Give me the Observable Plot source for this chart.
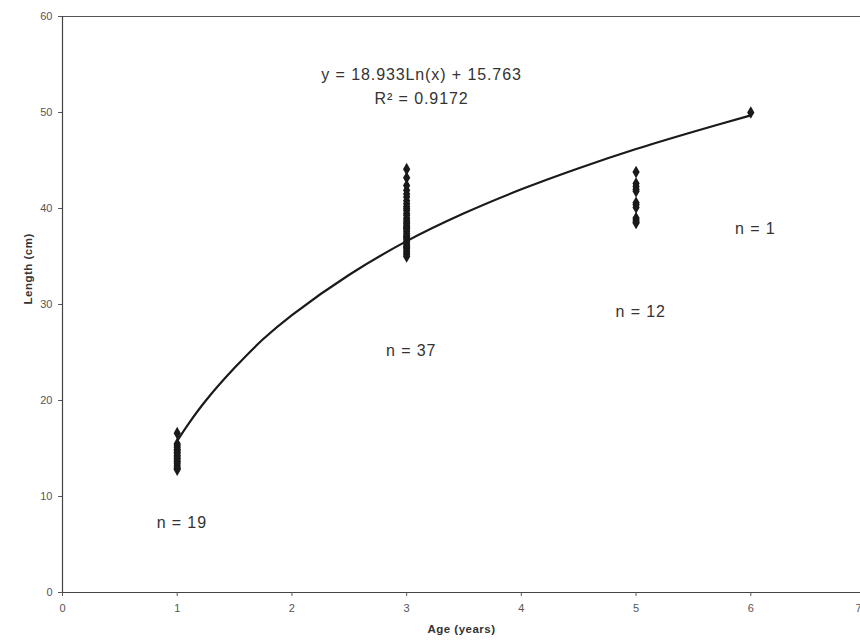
<!DOCTYPE html>
<html>
<head>
<meta charset="utf-8">
<script src="https://cdn.jsdelivr.net/npm/d3@7"></script>
<script src="https://cdn.jsdelivr.net/npm/@observablehq/plot@0.6"></script>
<style>
  html, body { margin: 0; padding: 0; background: #fff; }
  #chart svg { display: block; }
</style>
</head>
<body>
<div id="chart"></div>
<script>
// Observed lengths (cm) by age group (years)
const age1 = [16.6, 15.5, 15.3, 15.1, 14.9, 14.8, 14.6, 14.5, 14.3, 14.2, 14.0, 13.9, 13.7, 13.6, 13.4, 13.2, 13.0, 12.9, 12.8];
const age3 = [44.1, 43.2, 42.4, 41.9, 41.5, 41.2, 40.8, 40.5, 40.2, 40.0, 39.8, 39.5, 39.3, 39.0, 38.8, 38.6, 38.4, 38.2, 38.0, 38.0, 37.8, 37.6, 37.4, 37.2, 37.0, 37.0, 36.8, 36.6, 36.4, 36.2, 36.0, 36.0, 35.8, 35.6, 35.4, 35.2, 35.0];
const age5 = [43.8, 42.6, 42.3, 42.0, 41.8, 40.6, 40.4, 40.1, 39.0, 38.8, 38.6, 38.5];
const age6 = [50.0];

// Trend line
const trendAge = [1, 1.1, 1.25, 1.5, 1.75, 2, 2.5, 3, 3.5, 4, 4.5, 5, 5.5, 6];
const trendLength = [15.8, 17.6, 20.0, 23.4, 26.4, 28.9, 33.1, 36.6, 39.5, 42.0, 44.2, 46.2, 48.0, 49.7];

// Group counts
const groupAges = [1, 3, 5, 6];
const groupLabels = ["n = 19", "n = 37", "n = 12", "n = 1"];
const groupLabelY = [7.3, 25.2, 29.2, 37.9];

const xTicks = [0, 1, 2, 3, 4, 5, 6];
const xEdgeTick = [7];
const yTicks = [0, 10, 20, 30, 40, 50, 60];

const equationText = "y = 18.933Ln(x) + 15.763";
const r2Text = "R\u00B2 = 0.9172";
const xTitle = "Age (years)";
const yTitle = "Length (cm)";

const points = [
  ...age1.map(v => ({age: 1, length: v})),
  ...age3.map(v => ({age: 3, length: v})),
  ...age5.map(v => ({age: 5, length: v})),
  ...age6.map(v => ({age: 6, length: v}))
];
const trend = trendAge.map((a, i) => ({age: a, length: trendLength[i]}));
const groups = groupAges.map((a, i) => ({age: a + 0.04, y: groupLabelY[i], label: groupLabels[i]}));

const bigText = {fontSize: 16, fill: "#333"};

const chart = Plot.plot({
  width: 860,
  height: 643,
  marginLeft: 62,
  marginTop: 16,
  marginBottom: 51,
  marginRight: 0,
  style: {fontFamily: "'Liberation Sans', Arial, sans-serif", background: "#fff", color: "#444"},
  x: {domain: [0, 7], range: [62, 865]},
  y: {domain: [0, 60]},
  marks: [
    Plot.ruleY([60], {stroke: "#555", strokeWidth: 1}),
    Plot.ruleX([0], {stroke: "#444", strokeWidth: 1.2}),
    Plot.ruleY([0], {stroke: "#444", strokeWidth: 1.2}),
    Plot.axisY(yTicks, {
      tickSize: 4, tickPadding: 6, fontSize: 11, stroke: "#555", fill: "#555",
      tickFormat: "d", label: null
    }),
    Plot.axisX(xTicks, {
      tickSize: 4, tickPadding: 8, fontSize: 11, stroke: "#555", fill: "#555",
      tickFormat: "d", label: null
    }),
    Plot.tickX(xEdgeTick, {x: d => d, y1: 0, y2: 0, stroke: "#555"}),
    Plot.text(xEdgeTick, {x: d => d, frameAnchor: "bottom", dy: 19, dx: -4, textAnchor: "end", fontSize: 11, fill: "#555", text: d => String(d)}),
    Plot.text([xTitle], {frameAnchor: "bottom", dy: 40, fontSize: 11.5, fontWeight: "bold", fill: "#333"}),
    Plot.text([yTitle], {frameAnchor: "left", dx: -34, rotate: -90, fontSize: 11.5, fontWeight: "bold", fill: "#333"}),
    Plot.line(trend, {x: "age", y: "length", curve: "catmull-rom", stroke: "#1a1a1a", strokeWidth: 2.2}),
    Plot.dot(points, {x: "age", y: "length", symbol: "diamond", r: 3.8, fill: "#1a1a1a", stroke: "none"}),
    Plot.text(groups, {x: "age", y: "y", text: "label", ...bigText}),
    Plot.text([equationText], {x: 3.13, y: 53.9, ...bigText}),
    Plot.text([r2Text], {x: 3.13, y: 51.4, ...bigText})
  ]
});
const spaced = new Set([equationText, r2Text, ...groupLabels]);
d3.select(chart).selectAll("text")
  .filter(function() { return spaced.has(this.textContent); })
  .attr("letter-spacing", "0.9");
d3.select(chart).selectAll("text")
  .filter(function() { return this.textContent === xTitle || this.textContent === yTitle; })
  .attr("letter-spacing", "0.5");
document.getElementById("chart").appendChild(chart);
</script>
</body>
</html>
